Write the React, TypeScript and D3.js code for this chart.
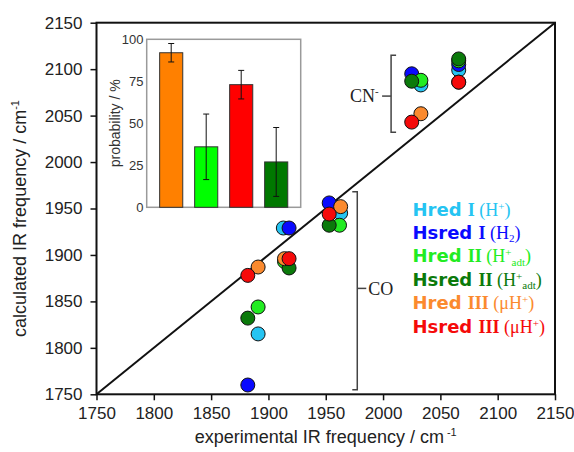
import { useEffect, useRef } from 'react';
import * as d3 from 'd3';

// main scatter: [experimental, calculated] in cm-1, three CO then two CN bands
const hredI = [[1891, 1815], [1913, 1929], [1963, 1945], [2033, 2083], [2066, 2099]];
const hsredI = [[1882, 1760], [1918, 1929], [1953, 1956], [2025, 2095], [2066, 2105]];
const hredII = [[1891, 1844], [1914, 1893], [1962, 1932], [2033, 2088], [2066, 2109]];
const hsredII = [[1882, 1832], [1918, 1886], [1953, 1932], [2025, 2087], [2066, 2111]];
const hredIII = [[1891, 1887], [1914, 1896], [1963, 1952], [2033, 2052], [2066, 2086]];
const hsredIII = [[1882, 1878], [1918, 1896], [1953, 1944], [2025, 2043], [2066, 2086]];

const speciesData = [hredI, hsredI, hredII, hsredII, hredIII, hsredIII];
const speciesBase = ['Hred', 'Hsred', 'Hred', 'Hsred', 'Hred', 'Hsred'];
const speciesRoman = ['I', 'I', 'II', 'II', 'III', 'III'];
const speciesColors = ['#25c4f2', '#0a0aff', '#22ec22', '#0b7a0b', '#fb8a2e', '#f50a0a'];
// ligand text pieces: [text, 'n' | 'sup' | 'sub']
const speciesLigand = [
    [['(H', 'n'], ['+', 'sup'], [')', 'n']],
    [['(H', 'n'], ['2', 'sub'], [')', 'n']],
    [['(H', 'n'], ['+', 'sup'], ['adt', 'sub'], [')', 'n']],
    [['(H', 'n'], ['+', 'sup'], ['adt', 'sub'], [')', 'n']],
    [['(\u03bcH', 'n'], ['+', 'sup'], [')', 'n']],
    [['(\u03bcH', 'n'], ['+', 'sup'], [')', 'n']],
];

const axisTicks = [1750, 1800, 1850, 1900, 1950, 2000, 2050, 2100, 2150];

// brackets: [x, yLow, yHigh, yMid] in data units
const cnBracket = [2007, 2032, 2115, 2071];
const coBracket = [1977.5, 1755, 1968, 1864];

// inset bar chart
const probLabels = ['Hred III', 'Hred II', 'Hsred III', 'Hsred II'];
const probValues = [92, 36, 73, 27];
const probErrors = [5.5, 19.5, 8.5, 20.5];
const probColors = ['#ff8000', '#00ff00', '#ff0000', '#007800'];
const probTicks = [0, 25, 50, 75, 100];

export default function App() {
    const svgRef = useRef<SVGSVGElement>(null);

    useEffect(() => {
        const width = 574;
        const height = 452;
        const sans = '"Liberation Sans", Arial, sans-serif';
        const serif = '"Liberation Serif", "Times New Roman", serif';

        const svg = d3.select(svgRef.current);
        svg.selectAll('*').remove();
        svg.attr('width', width).attr('height', height);

        svg.append('rect').attr('width', width).attr('height', height).attr('fill', 'white');

        const x = d3.scaleLinear().domain([1750, 2150]).range([96.5, 555]);
        const y = d3.scaleLinear().domain([1750, 2150]).range([394.3, 22.7]);

        // axes
        const xAxis = svg
            .append('g')
            .attr('transform', `translate(0,${y(1750)})`)
            .call(d3.axisBottom(x).tickValues(axisTicks).tickSize(6).tickPadding(7).tickFormat(d3.format('d')));
        const yAxis = svg
            .append('g')
            .attr('transform', `translate(${x(1750)},0)`)
            .call(d3.axisLeft(y).tickValues(axisTicks).tickSize(6).tickPadding(8).tickFormat(d3.format('d')));
        [xAxis, yAxis].forEach((a) => {
            a.select('.domain').remove();
            a.selectAll('line').attr('stroke', '#111').attr('stroke-width', 1.5);
            a.selectAll('text').style('font-family', sans).style('font-size', '17px').attr('fill', '#222');
        });

        // frame
        svg
            .append('rect')
            .attr('x', x(1750))
            .attr('y', y(2150))
            .attr('width', x(2150) - x(1750))
            .attr('height', y(1750) - y(2150))
            .attr('fill', 'none')
            .attr('stroke', '#111')
            .attr('stroke-width', 2);

        // axis titles
        const xt = svg
            .append('text')
            .attr('x', (x(1750) + x(2150)) / 2)
            .attr('y', 443)
            .attr('text-anchor', 'middle')
            .style('font-family', sans)
            .style('font-size', '18px')
            .attr('fill', '#222');
        xt.append('tspan').text('experimental IR frequency / cm');
        xt.append('tspan').attr('dy', -7).attr('dx', 3).style('font-size', '11px').text('-1');

        const yt = svg
            .append('text')
            .attr('transform', `translate(26,${(y(1750) + y(2150)) / 2 + 10}) rotate(-90)`)
            .attr('text-anchor', 'middle')
            .style('font-family', sans)
            .style('font-size', '18px')
            .attr('fill', '#222');
        yt.append('tspan').text('calculated IR frequency / cm');
        yt.append('tspan').attr('dy', -7).style('font-size', '11px').text('-1');

        // diagonal
        svg
            .append('line')
            .attr('x1', x(1750))
            .attr('y1', y(1750))
            .attr('x2', x(2150))
            .attr('y2', y(2150))
            .attr('stroke', '#111')
            .attr('stroke-width', 2);

        // brackets
        const bracketColor = '#444';
        const drawBracket = (b: number[], dir: number) => {
            const bx = x(b[0]);
            const p = `M${bx + dir * 5},${y(b[2])}H${bx}V${y(b[1])}H${bx + dir * 5}`;
            svg.append('path').attr('d', p).attr('fill', 'none').attr('stroke', bracketColor).attr('stroke-width', 1.5);
            svg
                .append('line')
                .attr('x1', bx)
                .attr('x2', bx - dir * 9)
                .attr('y1', y(b[3]))
                .attr('y2', y(b[3]))
                .attr('stroke', bracketColor)
                .attr('stroke-width', 1.5);
        };
        drawBracket(cnBracket, 1);
        drawBracket(coBracket, -1);

        const cn = svg
            .append('text')
            .attr('x', x(cnBracket[0]) - 41)
            .attr('y', y(cnBracket[3]) + 6)
            .style('font-family', serif)
            .style('font-size', '18px')
            .attr('fill', '#222');
        cn.append('tspan').text('CN');
        cn.append('tspan').attr('dy', -7).style('font-size', '11px').text('-');

        svg
            .append('text')
            .attr('x', x(coBracket[0]) + 11)
            .attr('y', y(coBracket[3]) + 6.5)
            .style('font-family', serif)
            .style('font-size', '18px')
            .attr('fill', '#222')
            .text('CO');

        // scatter points
        speciesData.forEach((pts, i) => {
            svg
                .append('g')
                .selectAll('circle')
                .data(pts)
                .enter()
                .append('circle')
                .attr('cx', (d) => x(d[0]))
                .attr('cy', (d) => y(d[1]))
                .attr('r', 7)
                .attr('fill', speciesColors[i])
                .attr('stroke', '#111')
                .attr('stroke-width', 1);
        });

        // legend
        speciesBase.forEach((name, i) => {
            const t = svg
                .append('text')
                .attr('x', 412.5)
                .attr('y', 215.5 + i * 23.4)
                .attr('fill', speciesColors[i])
                .style('font-size', '18px');
            t.append('tspan').style('font-family', '"DejaVu Sans", sans-serif').style('font-weight', 'bold').text(name + ' ');
            t.append('tspan').style('font-family', serif).style('font-weight', 'bold').text(speciesRoman[i] + ' ');
            let shift = 0;
            speciesLigand[i].forEach(([txt, kind]) => {
                const target = kind === 'sup' ? -6 : kind === 'sub' ? 3.5 : 0;
                t.append('tspan')
                    .attr('dy', target - shift)
                    .style('font-family', serif)
                    .style('font-size', kind === 'n' ? '18px' : '11px')
                    .text(txt);
                shift = target;
            });
        });

        // inset
        const ix = d3.scaleBand().domain(probLabels).range([146.7, 300.7]).paddingInner(0.34).paddingOuter(0.37);
        const iy = d3.scaleLinear().domain([0, 100]).range([207.3, 39.3]);

        svg
            .append('rect')
            .attr('x', 146.7)
            .attr('y', iy(100))
            .attr('width', 154)
            .attr('height', iy(0) - iy(100))
            .attr('fill', 'white')
            .attr('stroke', '#9a9a9a')
            .attr('stroke-width', 1.5);

        svg
            .append('g')
            .selectAll('rect')
            .data(probValues)
            .enter()
            .append('rect')
            .attr('x', (d, i) => ix(probLabels[i]) as number)
            .attr('y', (d) => iy(d))
            .attr('width', ix.bandwidth())
            .attr('height', (d) => iy(0) - iy(d))
            .attr('fill', (d, i) => probColors[i])
            .attr('stroke', '#333')
            .attr('stroke-width', 1);

        const err = svg.append('g').attr('stroke', '#111').attr('stroke-width', 1);
        probValues.forEach((v, i) => {
            const cx = (ix(probLabels[i]) as number) + ix.bandwidth() / 2;
            const hi = iy(v + probErrors[i]);
            const lo = iy(v - probErrors[i]);
            err.append('line').attr('x1', cx).attr('x2', cx).attr('y1', hi).attr('y2', lo);
            err.append('line').attr('x1', cx - 3).attr('x2', cx + 3).attr('y1', hi).attr('y2', hi);
            err.append('line').attr('x1', cx - 3).attr('x2', cx + 3).attr('y1', lo).attr('y2', lo);
        });

        svg
            .append('g')
            .selectAll('text')
            .data(probTicks)
            .enter()
            .append('text')
            .attr('x', 143.5)
            .attr('y', (d) => iy(d))
            .attr('dy', '0.36em')
            .attr('text-anchor', 'end')
            .style('font-family', sans)
            .style('font-size', '13px')
            .attr('fill', '#333')
            .text((d) => d);

        svg
            .append('text')
            .attr('transform', `translate(120,${(iy(0) + iy(100)) / 2}) rotate(-90)`)
            .attr('text-anchor', 'middle')
            .style('font-family', sans)
            .style('font-size', '14px')
            .attr('fill', '#333')
            .text('probability / %');
    }, []);

    return (
        <svg ref={svgRef} style={{ position: 'absolute', left: 0, top: 0 }}></svg>
    );
}
